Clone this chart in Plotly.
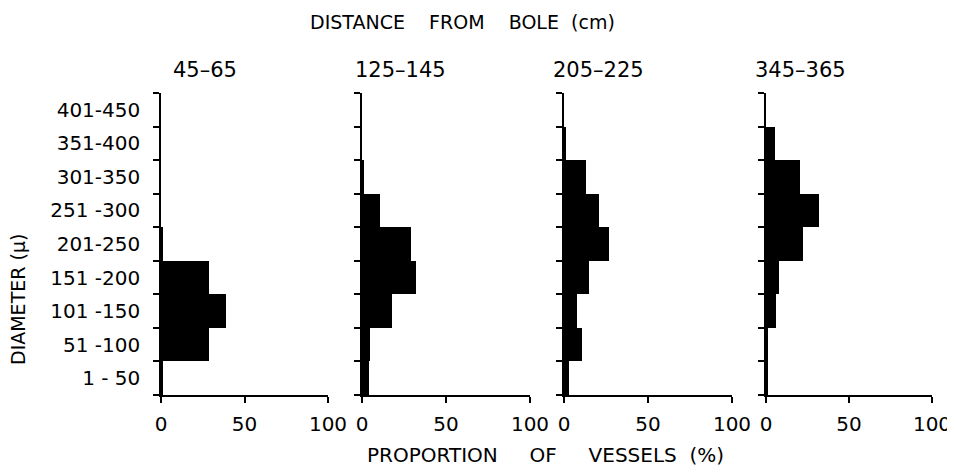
import plotly.graph_objects as go

# Data
diameter_bins = ["1 - 50", "51 -100", "101 -150", "151 -200", "201-250",
                 "251 -300", "301-350", "351-400", "401-450"]
distances = ["45–65", "125–145", "205–225", "345–365"]
prop_45_65 = [1, 29, 39, 29, 1, 0, 0, 0, 0]
prop_125_145 = [4, 5, 18, 32, 29, 11, 1, 0, 0]
prop_205_225 = [3, 11, 7.5, 15, 27, 21, 13, 1, 0]
prop_345_365 = [1, 1, 6, 8, 22, 32, 20.5, 5.5, 0]
series = [prop_45_65, prop_125_145, prop_205_225, prop_345_365]
x_ticks = [0, 50, 100]
x_ticklabels = ["0", "50", "100"]

# page body has an 8px margin; the figure spans from there to the window edge
OFF = 8
W, H = 955 - OFF, 474 - 2 * OFF


def xf(px):
    return (px - OFF) / W


def yf(py):
    return (H - (py - OFF)) / H


left_px = [161, 362, 564, 766]
right_px = [328, 530, 732, 932]
title_px = [205, 400, 598, 800]
ydom = [yf(395), yf(93)]

FONT = "DejaVu Sans"
fig = go.Figure()
centers = [i + 0.5 for i in range(len(diameter_bins))]

for i, vals in enumerate(series):
    n = "" if i == 0 else str(i + 1)
    fig.add_trace(go.Bar(
        x=vals, y=centers, orientation="h", width=1.0,
        marker=dict(color="black", line=dict(width=0)),
        xaxis="x" + n, yaxis="y" + n, showlegend=False,
    ))
    fig.layout["xaxis" + n] = dict(
        domain=[xf(left_px[i]), xf(right_px[i])], range=[0, 100],
        anchor="y" + n, tickvals=x_ticks, ticktext=x_ticklabels,
        ticks="outside", ticklen=6, tickwidth=1.5, tickcolor="black",
        showline=True, linecolor="black", linewidth=1.5,
        showgrid=False, zeroline=False, ticklabelstandoff=4,
        automargin=False, ticklabeloverflow="allow",
        tickfont=dict(family=FONT, size=20, color="black"),
    )
    fig.layout["yaxis" + n] = dict(
        domain=ydom, range=[0, 9], anchor="x" + n,
        tickvals=centers, ticktext=diameter_bins if i == 0 else [""] * 9,
        showticklabels=(i == 0), ticks="", ticklabelstandoff=15,
        minor=dict(ticks="outside", tick0=0, dtick=1, ticklen=6,
                   tickwidth=1.5, tickcolor="black", showgrid=False),
        showline=True, linecolor="black", linewidth=1.5,
        showgrid=False, zeroline=False, automargin=False,
        tickfont=dict(family=FONT, size=20, color="black"),
    )
    fig.add_annotation(
        text=distances[i], x=xf(title_px[i]), y=yf(70),
        xanchor="center", yanchor="middle",
        xref="paper", yref="paper", showarrow=False,
        font=dict(family=FONT, size=21, color="black"),
    )

fig.add_annotation(text="DISTANCE    FROM    BOLE  (cm)", x=xf(462), y=yf(22),
                   xanchor="center", yanchor="middle",
                   xref="paper", yref="paper", showarrow=False,
                   font=dict(family=FONT, size=19, color="black"))
fig.add_annotation(text="PROPORTION     OF     VESSELS  (%)", x=xf(545), y=yf(455),
                   xanchor="center", yanchor="middle",
                   xref="paper", yref="paper", showarrow=False,
                   font=dict(family=FONT, size=20, color="black"))
fig.add_annotation(text="DIAMETER (μ)", x=xf(18), y=yf(300),
                   xanchor="center", yanchor="middle",
                   xref="paper", yref="paper", showarrow=False, textangle=-90,
                   font=dict(family=FONT, size=19, color="black"))

fig.update_layout(
    width=W, height=H, margin=dict(l=0, r=0, t=0, b=0, autoexpand=False),
    paper_bgcolor="white", plot_bgcolor="white", bargap=0,
)
fig.write_html("out.html")
